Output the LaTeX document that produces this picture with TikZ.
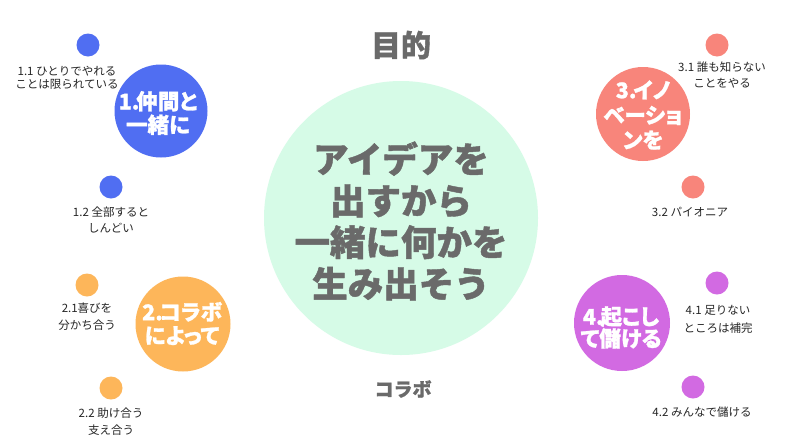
\documentclass[tikz,border=0pt]{standalone}
\usepackage{fontspec}
\setmainfont{Noto Sans CJK JP}
\newfontfamily\heavyfont[BoldFeatures={FakeBold=1.2}]{Noto Sans CJK JP}
\newfontfamily\heavypalt[RawFeature=+palt,BoldFeatures={FakeBold=1.2}]{Noto Sans CJK JP}
\definecolor{cblue}{HTML}{506EF2}
\definecolor{corange}{HTML}{FDB65A}
\definecolor{csalmon}{HTML}{F8857B}
\definecolor{cpurple}{HTML}{D26AE2}
\definecolor{cmint}{HTML}{D6FBE7}
\definecolor{cgray}{HTML}{6A6A6A}
\definecolor{cdark}{HTML}{262626}
\tikzset{
  bigdisc/.style={circle,draw=none,inner sep=0pt,minimum size=#1},
  dot/.style={circle,draw=none,inner sep=0pt,minimum size=23pt},
  disclabel/.style={text=white,align=center,inner sep=0pt,font={\heavypalt\bfseries\fontsize{21.5}{23.5}\selectfont}},
  smalllabel/.style={text=cdark,align=center,inner sep=0pt,font={\fontsize{11.5}{16.5}\selectfont}},
}
\begin{document}
\begin{tikzpicture}[x=1pt,y=-1pt]
\useasboundingbox (0,0) rectangle (800,445);
\fill[white] (0,0) rectangle (800,445);
% centre
\node[bigdisc=274pt,fill=cmint] (main) at (401,218) {};
\node[text=cgray,align=center,inner sep=0pt,font={\heavyfont\bfseries\fontsize{35.5}{41.5}\selectfont}] (maintext) at (401,221) {アイデアを\\出すから\\一緒に何かを\\生み出そう};
\node[text=cgray,inner sep=0pt,font={\heavyfont\bfseries\fontsize{30}{32}\selectfont}] (purpose) at (401,45) {目的};
\node[text=cgray,inner sep=0pt,font={\heavyfont\bfseries\fontsize{19}{20}\selectfont}] (collab) at (403,389) {コラボ};
% group 1
\node[bigdisc=93pt,fill=cblue] (g1) at (161,111) {};
\node[disclabel] (g1t) at (158,113) {1.\kern-3pt 仲間と\\一緒に};
\node[dot,fill=cblue] (d11) at (88,45) {};
\node[smalllabel,font={\fontsize{11.5}{13}\selectfont}] (l11) at (67,78) {1.1 ひとりでやれる\\ことは限られている};
\node[dot,fill=cblue] (d12) at (111,187) {};
\node[smalllabel] (l12) at (111,220) {1.2 全部すると\\しんどい};
% group 2
\node[bigdisc=95pt,fill=corange] (g2) at (183,324) {};
\node[disclabel] (g2t) at (182,323.5) {2.\kern-3pt コラボ\\によって};
\node[dot,fill=corange] (d21) at (87,285) {};
\node[smalllabel] (l21) at (87,316.5) {2.1喜びを\\分かち合う};
\node[dot,fill=corange] (d22) at (111,388) {};
\node[smalllabel] (l22) at (111,421.5) {2.2 助け合う\\支え合う};
% group 3
\node[bigdisc=94pt,fill=csalmon] (g3) at (643,114) {};
\node[disclabel,font={\heavypalt\bfseries\fontsize{21.5}{25}\selectfont}] (g3t) at (643,115) {3.\kern-3pt イノ\\ベーショ\\ンを};
\node[dot,fill=csalmon] (d31) at (717,45) {};
\node[smalllabel] (l31) at (722,75) {3.1 誰も知らない\\ことをやる};
\node[dot,fill=csalmon] (d32) at (693,187) {};
\node[smalllabel] (l32) at (690,212) {3.2 パイオニア};
% group 4
\node[bigdisc=96pt,fill=cpurple] (g4) at (622,323) {};
\node[disclabel,font={\heavypalt\bfseries\fontsize{21.5}{22}\selectfont}] (g4t) at (621,327.5) {4.\kern-3pt 起こし\\て儲ける};
\node[dot,fill=cpurple] (d41) at (717,283) {};
\node[smalllabel,font={\fontsize{11.5}{18}\selectfont}] (l41) at (718,319) {4.1 足りない\\ところは補完};
\node[dot,fill=cpurple] (d42) at (693,387) {};
\node[smalllabel] (l42) at (702,412) {4.2 みんなで儲ける};
\end{tikzpicture}
\end{document}
